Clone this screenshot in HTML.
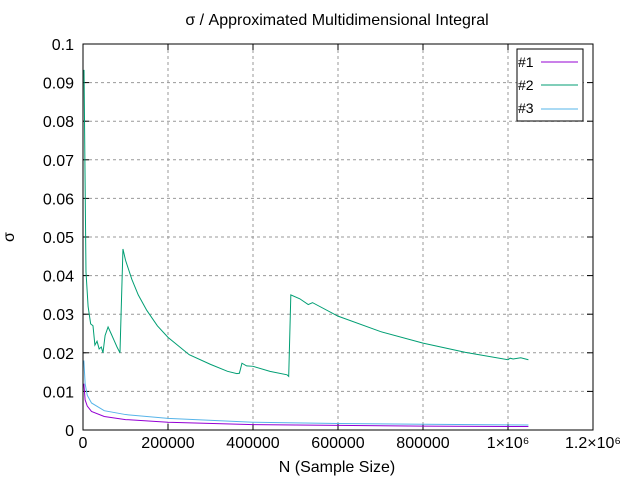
<!DOCTYPE html>
<html><head><meta charset="utf-8"><style>
body{margin:0;background:#fff}
svg text{font-family:"Liberation Sans",sans-serif;font-size:16px;fill:#000}
</style></head><body>
<svg width="640" height="480" id="c">
<text x="337" y="25" text-anchor="middle">σ / Approximated Multidimensional Integral</text>
<text x="337" y="472" text-anchor="middle">N (Sample Size)</text>
<text x="14" y="237" text-anchor="middle" transform="rotate(-90 14 237)">σ</text>
<g id="grid"></g><g id="ticks"></g><g id="series"></g>
<rect x="83" y="44" width="510" height="386" fill="none" stroke="#000" stroke-width="1"/>
<g>
<rect x="517" y="49" width="66" height="72" fill="#fff" stroke="#000"/>
<text x="518" y="67" style="font-size:14px">#1</text>
<line x1="541" y1="62" x2="578" y2="62" stroke="#9400d3"/>
<text x="518" y="90" style="font-size:14px">#2</text>
<line x1="541" y1="85" x2="578" y2="85" stroke="#009e73"/>
<text x="518" y="113" style="font-size:14px">#3</text>
<line x1="541" y1="109" x2="578" y2="109" stroke="#56b4e9"/>
</g>
</svg>
<script>
const xTicks=[0,200000,400000,600000,800000,1000000,1200000];
const xTickLabels=["0","200000","400000","600000","800000","1×10⁶","1.2×10⁶"];
const yTicks=[0,0.01,0.02,0.03,0.04,0.05,0.06,0.07,0.08,0.09,0.1];
const yTickLabels=["0","0.01","0.02","0.03","0.04","0.05","0.06","0.07","0.08","0.09","0.1"];
const nGreen=[2400,7000,12000,18000,23500,28000,33000,38000,43000,47000,52000,59000,66000,74000,80000,87000,94000,100000,115000,130000,150000,175000,200000,250000,300000,340000,362000,368000,374000,385000,400000,440000,480000,484000,489000,510000,530000,540000,600000,700000,800000,900000,1000000,1005000,1012000,1030000,1048000];
const sGreen=[0.0933,0.041,0.032,0.0275,0.027,0.022,0.023,0.021,0.0215,0.020,0.0245,0.0267,0.025,0.023,0.0215,0.020,0.0469,0.044,0.039,0.035,0.031,0.027,0.024,0.0195,0.017,0.0152,0.0146,0.0147,0.0173,0.0166,0.0165,0.0152,0.0143,0.0139,0.035,0.034,0.0325,0.033,0.0295,0.0255,0.0225,0.0201,0.0182,0.0186,0.0184,0.0187,0.0182];
const nPurple=[2000,5000,10000,20000,50000,100000,200000,400000,600000,800000,1048000];
const sPurple=[0.012,0.0078,0.0062,0.0048,0.0035,0.0027,0.002,0.0014,0.0012,0.001,0.0009];
const nBlue=[2000,5000,10000,20000,50000,100000,200000,400000,600000,800000,1048000];
const sBlue=[0.018,0.012,0.009,0.007,0.005,0.004,0.003,0.002,0.0017,0.0015,0.0013];
const X=v=>83+v/1200000*510, Y=v=>430-v/0.1*386;
const NS="http://www.w3.org/2000/svg";
function mk(t,a,p){const e=document.createElementNS(NS,t);for(const k in a)e.setAttribute(k,a[k]);p.appendChild(e);return e;}
const g=document.getElementById('grid'),tk=document.getElementById('ticks'),sg=document.getElementById('series');
xTicks.forEach((v,i)=>{const x=X(v);
 if(i>0&&i<xTicks.length-1){const l=mk('line',{x1:x,y1:44,x2:x,y2:430,stroke:'#999','stroke-dasharray':'3,3'},g);
 
 }
 mk('line',{x1:x,y1:430,x2:x,y2:424,stroke:'#000'},tk);mk('line',{x1:x,y1:44,x2:x,y2:50,stroke:'#000'},tk);
 const t=mk('text',{x:x,y:448,'text-anchor':'middle'},tk);t.textContent=xTickLabels[i];
 
 });
yTicks.forEach((v,i)=>{const y=Y(v);
 if(i>0&&i<yTicks.length-1){const l=mk('line',{x1:83,y1:y,x2:593,y2:y,stroke:'#999','stroke-dasharray':'3,3'},g);
 
 }
 mk('line',{x1:83,y1:y,x2:89,y2:y,stroke:'#000'},tk);mk('line',{x1:593,y1:y,x2:587,y2:y,stroke:'#000'},tk);
 const t=mk('text',{x:74,y:y+6,'text-anchor':'end'},tk);t.textContent=yTickLabels[i];
 
 });
function line(ns,ss,col,name){const p=mk('polyline',{points:ns.map((n,i)=>X(n)+','+Y(ss[i])).join(' '),fill:'none',stroke:col,'stroke-width':1},sg);
 
 }
line(nBlue,sBlue,'#56b4e9','series-3-line');
line(nPurple,sPurple,'#9400d3','series-1-line');
line(nGreen,sGreen,'#009e73','series-2-line');
</script>
</body></html>
